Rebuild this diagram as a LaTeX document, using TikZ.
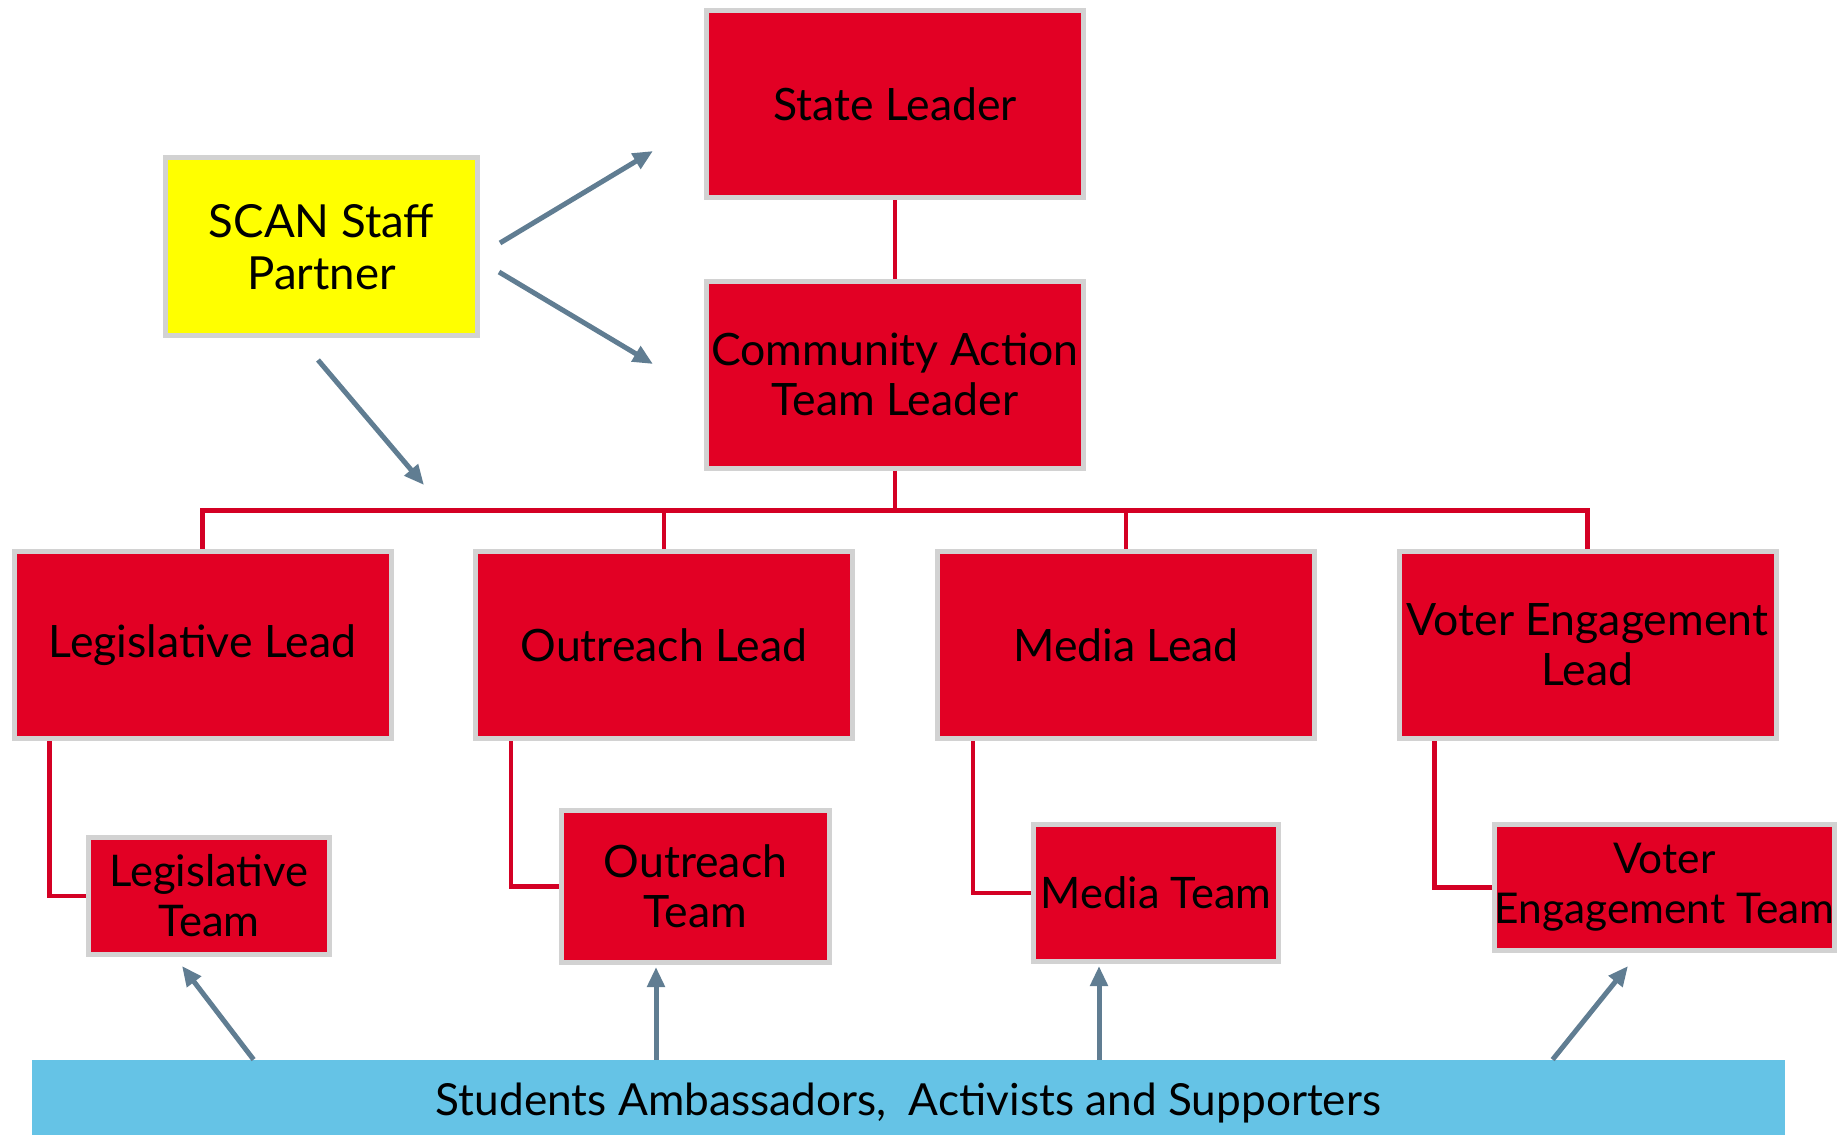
\documentclass[tikz,border=0pt]{standalone}
\usepackage{fontspec}
\setmainfont{Lato}
\usepackage{tikz}
\usetikzlibrary{arrows.meta, positioning, calc}
\definecolor{leadred}{RGB}{226,0,36}
\definecolor{linkred}{RGB}{212,0,36}
\definecolor{edgegray}{RGB}{210,210,210}
\definecolor{scanyellow}{RGB}{255,255,0}
\definecolor{barblue}{RGB}{101,195,230}
\definecolor{arrowgray}{RGB}{96,125,146}

\begin{document}
\begin{tikzpicture}[
  x=0.5pt, y=-0.5pt,
  box/.style={draw=edgegray, line width=2.5pt, fill=#1, inner sep=0pt, align=center, font=\fontsize{22.3}{25}\selectfont},
  box/.default=leadred,
  lead/.style={box, minimum width=188.5pt, minimum height=93.5pt},
  link/.style={draw=linkred, line width=2.4pt},
  arr/.style={draw=arrowgray, line width=2.5pt, -{Triangle[length=10pt, width=8.5pt]}},
]
\useasboundingbox (0,0) rectangle (1841,1135);
% Top of the tree
\node[lead] (state) at (895,104) {State Leader};
\node[lead] (cat) at (895,374.5) {Community Action\\Team Leader};
\node[box=scanyellow, minimum width=156pt, minimum height=89pt, font=\fontsize{22.8}{26}\selectfont] (scan) at (321.5,246.5) {SCAN Staff\\Partner};
% Leads
\node[lead] (lead1) at (202.5,645) {Legislative Lead};
\node[lead] (lead2) at (664,645) {Outreach Lead};
\node[lead] (lead3) at (1126,645) {Media Lead};
\node[lead] (lead4) at (1587.5,645) {Voter Engagement\\Lead};
% Teams
\node[box, minimum width=120.5pt, minimum height=58.5pt, font=\fontsize{21.8}{25}\selectfont] (team1) at (209,896) {Legislative\\Team};
\node[box, minimum width=134pt, minimum height=76pt] (team2) at (695.5,886.5) {Outreach\\Team};
\node[box, minimum width=122.5pt, minimum height=68.5pt, font=\fontsize{21.7}{25}\selectfont] (team3) at (1156,893) {Media Team};
\node[box, minimum width=170pt, minimum height=63pt, font=\fontsize{21.2}{25}\selectfont] (team4) at (1664.5,887.5) {Voter\\Engagement Team};
% Base bar
\node[fill=barblue, inner sep=0pt, minimum width=876.5pt, minimum height=37.5pt, text height=23pt, text depth=5pt, font=\fontsize{22.1}{26}\selectfont] (bar) at (908.5,1097.5) {Students Ambassadors,~ Activists and Supporters};

% Tree lines (red)
\draw[link] (state) -- (cat);
\coordinate (bus) at ($(cat.south)+(0,40)$);
\draw[link] (cat.south) -- (bus);
\foreach \n in {lead1,lead2,lead3,lead4}
  \draw[link] (bus) -| (\n.north);
\foreach \n/\t in {lead1/team1,lead2/team2,lead3/team3,lead4/team4}
  \draw[link] ($(\n.south west)+(38,0)$) |- (\t.west);

% Staff partner arrows
\coordinate (scantip) at ($(scan.south)+(102.5,147)$);
\draw[arr] ($(scan.east)+(20,-3.5)$) -- ($(state.west)+(-51,47)$);
\draw[arr] ($(scan.east)+(19,25.5)$) -- ($(cat.west)+(-51,-10.5)$);
\draw[arr] ($(scan.south)+(-3.5,22)$) -- (scantip);
% Base arrows up to the teams
\coordinate (up2) at ($(team2.south)+(-39.5,2)$);
\coordinate (up3) at ($(team3.south)+(-57,2)$);
\draw[arr] ($(bar.north west)+(222,0)$) -- ($(team1.south)+(-27,9)$);
\draw[arr] (bar.north -| up2) -- (up2);
\draw[arr] (bar.north -| up3) -- (up3);
\draw[arr] ($(bar.north west)+(1521,0)$) -- ($(team4.south)+(-36.5,13)$);
\end{tikzpicture}
\end{document}
